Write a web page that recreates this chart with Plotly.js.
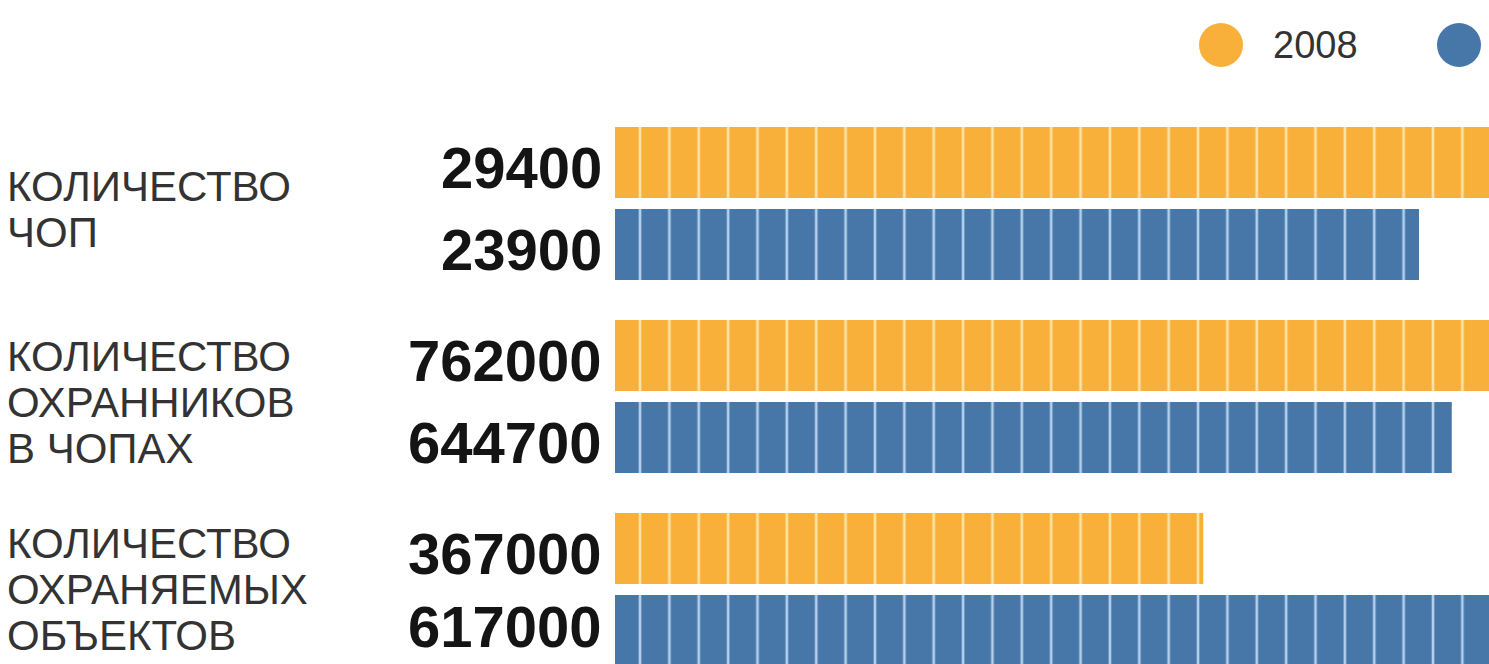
<!DOCTYPE html>
<html>
<head>
<meta charset="utf-8">
<script src="https://cdn.plot.ly/plotly-3.0.1.min.js"></script>
<style>
html,body{margin:0;padding:0;background:#fff;overflow:hidden;}
#chart{width:1489px;height:664px;}
</style>
</head>
<body>
<div id="chart"></div>
<script>
// ---- data ----
const categories = [
  ['КОЛИЧЕСТВО', 'ЧОП'],
  ['КОЛИЧЕСТВО', 'ОХРАННИКОВ', 'В ЧОПАХ'],
  ['КОЛИЧЕСТВО', 'ОХРАНЯЕМЫХ', 'ОБЪЕКТОВ']
];
const seriesNames = ['год 2008', 'второй год'];
const values2008 = [29400, 762000, 367000];
const valuesLater = [23900, 644700, 617000];
const legendLabels = ['2008'];

// ---- styling / layout constants ----
const W = 1489, H = 664;
const colors = ['#f8b03b', '#4776a8'];
const stripeColors = ['#fde3a2', '#b2d0ee'];
const plotLeftPx = 595.95;   // aligns stripe pattern
const zeroPx = 615;
const fullBarPx = 989;
const groupTopPx = [127, 320, 513];
const barPx = 71, gapPx = 11;
const slot = barPx + gapPx;

const series = [values2008, valuesLater];
const traces = [];
const layout = {
  width: W, height: H,
  margin: {l: 0, r: 0, t: 0, b: 0, pad: 0},
  paper_bgcolor: '#ffffff', plot_bgcolor: 'rgba(0,0,0,0)',
  barmode: 'overlay',
  bargap: gapPx / slot,
  showlegend: false,
  annotations: [],
  shapes: []
};

const numFont = {family: '"Liberation Sans", Arial, sans-serif', size: 58, color: '#141414', weight: 700};
const catFont = {family: '"Liberation Sans", Arial, sans-serif', size: 42, color: '#333333'};

categories.forEach((cat, g) => {
  const xs = g === 0 ? '' : String(g + 1);
  const domTop = groupTopPx[g] - gapPx / 2;
  const domBot = Math.min(H, groupTopPx[g] + 2 * slot - gapPx / 2);
  const bottomVal = -0.5 + (domBot - domTop) / slot;
  const maxV = Math.max(values2008[g], valuesLater[g]);
  const pxPerUnit = fullBarPx / maxV;
  layout['xaxis' + xs] = {
    domain: [plotLeftPx / W, 1],
    range: [-(zeroPx - plotLeftPx) / pxPerUnit, (W - zeroPx) / pxPerUnit],
    visible: false, fixedrange: true, anchor: 'y' + xs
  };
  layout['yaxis' + xs] = {
    domain: [1 - domBot / H, 1 - domTop / H],
    type: 'category',
    categoryorder: 'array', categoryarray: seriesNames,
    range: [bottomVal, -0.5],
    visible: false, fixedrange: true, anchor: 'x' + xs
  };
  series.forEach((vals, s) => {
    traces.push({
      type: 'bar', orientation: 'h',
      x: [vals[g]], y: [seriesNames[s]],
      xaxis: 'x' + xs, yaxis: 'y' + xs,
      name: seriesNames[s],
      marker: {
        color: colors[s],
        line: {width: 0},
        pattern: {shape: '|', size: 29.37, solidity: 0.09, fgcolor: stripeColors[s], bgcolor: colors[s], fillmode: 'replace'}
      },
      hoverinfo: 'skip'
    });
    // keep the label box inside the page (yshift > 0 moves up)
    const centerPx = groupTopPx[g] + s * slot + barPx / 2 + 5;
    const half = numFont.size * 0.6 + 3;
    let yshift = -5;
    if (centerPx + half > H) yshift += (centerPx + half - H);
    layout.annotations.push({
      xref: 'x' + xs, yref: 'y' + xs, x: 0, y: s,
      text: String(vals[g]), showarrow: false,
      xanchor: 'right', yanchor: 'middle', xshift: -11, yshift: yshift,
      font: numFont
    });
  });
  // category label lines (block shifted up if it would leave the page)
  const n = cat.length;
  const pitch = 46;
  const centerPx = groupTopPx[g] + barPx + gapPx / 2 + 6 + (g === 2 ? 3 : 0);
  let firstPx = centerPx - (n - 1) / 2 * pitch;
  const halfC = catFont.size * 0.6 + 3;
  const over = firstPx + (n - 1) * pitch + halfC - H;
  if (over > 0) firstPx -= over;
  cat.forEach((line, i) => {
    const yPx = firstPx + i * pitch;
    layout.annotations.push({
      xref: 'paper', yref: 'paper', x: 5 / W, y: 1 - yPx / H,
      text: line, showarrow: false, xanchor: 'left', yanchor: 'middle',
      font: catFont
    });
  });
});

// legend (manual, large dots)
layout.shapes.push(
  {type: 'circle', xref: 'paper', yref: 'paper', x0: 1199 / W, x1: 1243 / W, y0: 1 - 67 / H, y1: 1 - 23 / H, fillcolor: colors[0], line: {width: 0}},
  {type: 'circle', xref: 'paper', yref: 'paper', x0: 1437 / W, x1: 1481 / W, y0: 1 - 67 / H, y1: 1 - 23 / H, fillcolor: colors[1], line: {width: 0}}
);
layout.annotations.push({
  xref: 'paper', yref: 'paper', x: 1271 / W, y: 1 - 45 / H,
  text: legendLabels[0], showarrow: false, xanchor: 'left', yanchor: 'middle',
  font: {family: '"Liberation Sans", Arial, sans-serif', size: 38, color: '#333333'}
});

Plotly.newPlot('chart', traces, layout, {staticPlot: true, displayModeBar: false});
</script>
</body>
</html>
